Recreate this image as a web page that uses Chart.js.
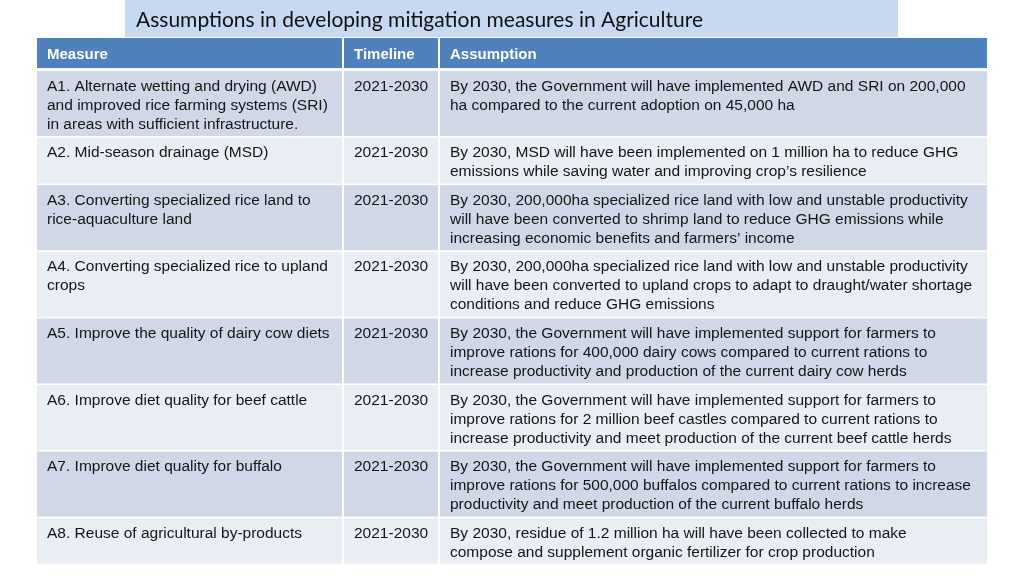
<!DOCTYPE html>
<html>
<head>
<meta charset="utf-8">
<script src="https://cdn.jsdelivr.net/npm/chart.js"></script>
<style>
  html, body { margin: 0; padding: 0; background: #fff; }
  #wrap { width: 1024px; height: 576px; }
</style>
</head>
<body>
<div id="wrap"><canvas id="table"></canvas></div>
<script>
const title = "Assumptions in developing mitigation measures in Agriculture";
const headers = ["Measure", "Timeline", "Assumption"];
const measures = [
  "A1. Alternate wetting and drying (AWD)\nand improved rice farming systems (SRI)\nin areas with sufficient infrastructure.",
  "A2. Mid-season drainage (MSD)",
  "A3. Converting specialized rice land to\nrice-aquaculture land",
  "A4. Converting specialized rice to upland\ncrops",
  "A5. Improve the quality of dairy cow diets",
  "A6. Improve diet quality for beef cattle",
  "A7. Improve diet quality for buffalo",
  "A8. Reuse of agricultural by-products"
];
const timelines = ["2021-2030", "2021-2030", "2021-2030", "2021-2030", "2021-2030", "2021-2030", "2021-2030", "2021-2030"];
const assumptions = [
  "By 2030, the Government will have implemented AWD and SRI on 200,000\nha compared to the current adoption on 45,000 ha",
  "By 2030, MSD will have been implemented on 1 million ha to reduce GHG\nemissions while saving water and improving crop\u2019s resilience",
  "By 2030, 200,000ha specialized rice land with low and unstable productivity\nwill have been converted to shrimp land to reduce GHG emissions while\nincreasing economic benefits and farmers\u2019 income",
  "By 2030, 200,000ha specialized rice land with low and unstable productivity\nwill have been converted to upland crops to adapt to draught/water shortage\nconditions and reduce GHG emissions",
  "By 2030, the Government will have implemented support for farmers to\nimprove rations for 400,000 dairy cows compared to current rations to\nincrease productivity and production of the current dairy cow herds",
  "By 2030, the Government will have implemented support for farmers to\nimprove rations for 2 million beef castles compared to current rations to\nincrease productivity and meet production of the current beef cattle herds",
  "By 2030, the Government will have implemented support for farmers to\nimprove rations for 500,000 buffalos compared to current rations to increase\nproductivity and meet production of the current buffalo herds",
  "By 2030, residue of 1.2 million ha will have been collected to make\ncompose and supplement organic fertilizer for crop production"
];

// layout (in scale units, scales map 1:1 to the 1024x576 canvas)
const colL = [37, 344, 440], colR = [342, 438, 987];
const LINE = 19, PAD = 8, GAP = 1.6, BODY_TOP = 71;
const font = '"Liberation Sans", Arial, sans-serif';

const rows = measures.map((m, i) => [m, timelines[i], assumptions[i]].map(t => t.split("\n")));
const rowTops = [];
let y0 = BODY_TOP;
rows.forEach(r => {
  const n = Math.max(...r.map(l => l.length));
  rowTops.push([y0, y0 + n * LINE + PAD]);
  y0 += n * LINE + PAD + GAP;
});

const tablePlugin = {
  id: "tablePlugin",
  beforeDatasetsDraw(chart) {
    const { ctx, scales: { x, y } } = chart;
    const rect = (x1, y1, x2, y2, c) => {
      const px = x.getPixelForValue(x1), py = y.getPixelForValue(y1);
      ctx.fillStyle = c;
      ctx.fillRect(px, py, x.getPixelForValue(x2) - px, y.getPixelForValue(y2) - py);
    };
    ctx.save();
    ctx.textBaseline = "alphabetic";
    // title box
    rect(125, 0, 898, 37, "#c6d9f1");
    ctx.fillStyle = "#111111";
    ctx.font = '21px Lato, "Open Sans", sans-serif';
    ctx.fillText(title, x.getPixelForValue(136), y.getPixelForValue(26.5));
    // header
    rect(37, 38, 987, 68, "#4f81bd");
    ctx.fillStyle = "#ffffff";
    ctx.fillRect(x.getPixelForValue(342), y.getPixelForValue(38), 2, 30);
    ctx.fillRect(x.getPixelForValue(438), y.getPixelForValue(38), 2, 30);
    ctx.font = "bold 15px " + font;
    headers.forEach((h, c) => ctx.fillText(h, x.getPixelForValue(colL[c] + 10), y.getPixelForValue(58.5)));
    // body
    ctx.font = "15.5px " + font;
    rows.forEach((r, i) => {
      const [t, b] = rowTops[i];
      const bg = i % 2 === 0 ? "#d0d8e8" : "#e9edf4";
      r.forEach((lines, c) => {
        rect(colL[c], t, colR[c], b, bg);
        ctx.fillStyle = "#151515";
        lines.forEach((ln, k) => ctx.fillText(ln, x.getPixelForValue(colL[c] + 10), y.getPixelForValue(t + 19.5 + k * LINE)));
      });
    });
    ctx.restore();
  }
};

new Chart(document.getElementById("table"), {
  type: "scatter",
  data: { datasets: [{ data: [] }] },
  options: {
    responsive: true,
    maintainAspectRatio: false,
    animation: false,
    layout: { padding: 0 },
    plugins: { legend: { display: false }, tooltip: { enabled: false } },
    scales: {
      x: { type: "linear", min: 0, max: 1024, display: false },
      y: { type: "linear", min: 0, max: 576, reverse: true, display: false }
    }
  },
  plugins: [tablePlugin]
});
</script>
</body>
</html>
